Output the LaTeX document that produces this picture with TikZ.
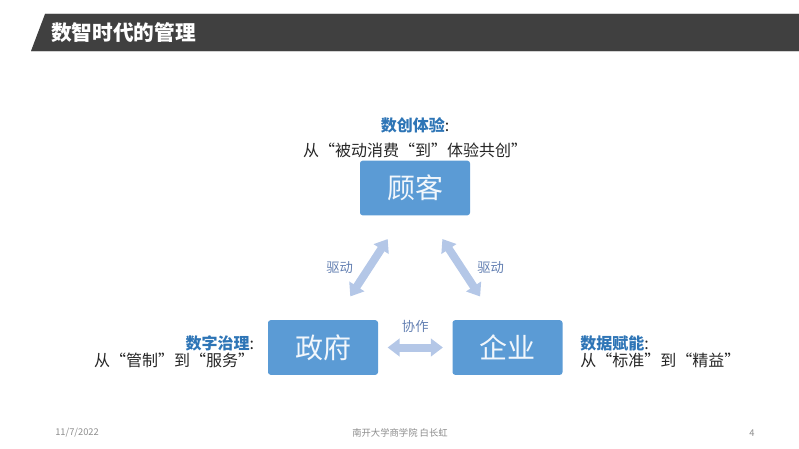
\documentclass[tikz,border=0pt]{standalone}
\usepackage{fontspec}
\setmainfont{Noto Sans CJK SC}
\usetikzlibrary{arrows.meta,calc,positioning}
\definecolor{boxblue}{RGB}{91,155,213}
\definecolor{arrowblue}{RGB}{180,199,231}
\definecolor{noteblue}{RGB}{46,117,182}
\definecolor{headgray}{RGB}{64,64,64}
\definecolor{footgray}{RGB}{140,140,140}
\definecolor{linkblue}{RGB}{100,128,178}
\definecolor{textdark}{RGB}{38,38,38}

\begin{document}
\begin{tikzpicture}[x=0.75pt,y=-0.75pt,
	role/.style={fill=boxblue, rounded corners=2pt, minimum width=82.5pt,
		minimum height=41pt, inner sep=0pt, text=white!92!boxblue,
		font=\fontsize{21}{21}\selectfont},
	note/.style={inner sep=0pt, text=textdark, font=\fontsize{12}{13}\selectfont},
	link/.style={arrowblue, line width=6pt,
		{Triangle[length=9pt,width=13pt]}-{Triangle[length=9pt,width=13pt]}},
	linklabel/.style={inner sep=0pt, text=linkblue, font=\fontsize{10}{10}\selectfont},
	foot/.style={inner sep=0pt, text=footgray, font=\fontsize{7}{7}\selectfont}
]
\pgfmathsetmacro{\sh}{21}
\useasboundingbox (0,0) rectangle (799,449);

% header band
\fill[headgray] (45,14) -- (799,14) -- (799,51) -- (31,51) -- cycle;
\draw[gray!35, line width=0.75pt] (45,13.5) -- (799,13.5);
\draw[gray!35, line width=0.75pt] (31,51.5) -- (799,51.5);
\node[anchor=west, inner sep=0pt, text=white, font=\bfseries\fontsize{15.5}{15.5}\selectfont]
	(title) at (51,33) {数智时代的管理};

\node[role] (cust) at (415,188) {顾客};
\node[role] (gov) at (323,347.5) {政府};
\node[role] (firm) at (507.5,347.5) {企业};

\node[note, align=center, font=\fontsize{12}{19}\selectfont, above=1.5pt of cust] (custnote)
	{{\color{noteblue}\bfseries 数创体验}:\\从“被动消费“到”体验共创”};
\node[note, align=right, left=10pt of gov, yshift=-3pt] (govnote)
	{{\color{noteblue}\bfseries 数字治理}:\\从“管制”到“服务”};
\node[note, align=left, right=13pt of firm, yshift=-3pt] (firmnote)
	{{\color{noteblue}\bfseries 数据赋能}:\\从“标准”到“精益”};

\draw[link, shorten <=\sh pt, shorten >=\sh pt] ($(gov.north)+(12,0)$) --
	node[linklabel, midway, left=9pt] (drive1) {驱动} ($(cust.south)+(-12,0)$);
\draw[link, shorten <=\sh pt, shorten >=\sh pt] ($(cust.south)+(12,0)$) --
	node[linklabel, midway, right=9pt] (drive2) {驱动} ($(firm.north)+(-12,0)$);
\draw[link, shorten <=7pt, shorten >=7pt] (gov.east) --
	node[linklabel, midway, above=8pt] (coop) {协作} (firm.west);

% footer
\node[foot, anchor=west] (date) at (55,433) {11/7/2022};
\node[foot] (school) at (400,433) {南开大学商学院 白长虹};
\node[foot] (page) at (752,433) {4};
\end{tikzpicture}
\end{document}
